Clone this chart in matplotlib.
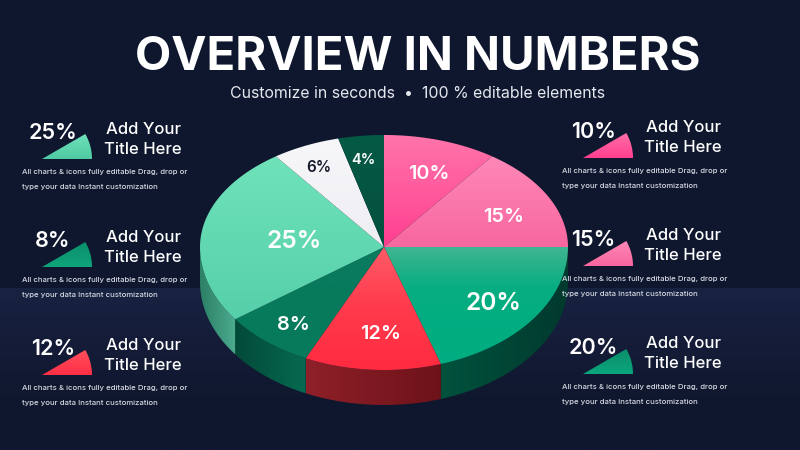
import numpy as np
import matplotlib
matplotlib.use("Agg")
import matplotlib.pyplot as plt
from matplotlib.colors import LinearSegmentedColormap
from matplotlib.patches import Polygon

plt.rcParams['font.family'] = ['Inter', 'DejaVu Sans']

# pie slices, clockwise from 12 o'clock
values = [10, 15, 20, 12, 8, 25, 6, 4]
slice_labels = ["10%", "15%", "20%", "12%", "8%", "25%", "6%", "4%"]
title = "OVERVIEW IN NUMBERS"
subtitle = "Customize in seconds  •  100 % editable elements"
card_title = ["Add Your", "Title Here"]
card_text = ["All charts & icons fully editable Drag, drop or",
             "type your data Instant customization"]
left_cards = ["25%", "8%", "12%"]
right_cards = ["10%", "15%", "20%"]

# styling
BG = "#0f172e"
top_colors = [("#ff74aa", "#ff3f90"), ("#ff88b8", "#f7679f"), ("#3fb590", "#08ae82", "#00ad80", "#00ad80"),
              ("#ff5a66", "#ff3a4c", "#ff2b40"), ("#0a7a5e", "#077a5b"), ("#6fe2ba", "#56d0aa"),
              ("#f7f7fa", "#eeeef3"), ("#055a45", "#04503e")]
wall_colors = {2: ("#00523d", "#023a2e"), 3: ("#8e2029", "#6e1219"),
               4: ("#034a39", "#066a50"), 5: ("#2c8066", "#4cab8e")}
label_xy = [(429, 174), (504, 217), (493, 303), (381, 334),
            (293, 325), (294, 241), (319, 167), (363, 160)]
label_size = [14.3, 14.3, 17.6, 14.3, 14.3, 17.6, 11, 10.5]
label_color = ["white"] * 6 + ["#15192b", "white"]
left_colors = [("#6fe2ba", "#4fcaa3"), ("#0b8f6b", "#0fa47b"), ("#ff4f5e", "#ff2f45")]
right_colors = [("#ff6fa8", "#ff3f90"), ("#ff88b8", "#f7679f"), ("#0c8f6d", "#0ba57c")]

cx, cy, rx, ry_up, ry_down, depth = 384, 247, 184, 112, 123, 35


def ell(theta):
    # theta in radians, clockwise from top, pixel coords
    ry = np.where(np.cos(theta) >= 0, ry_up, ry_down)
    return cx + rx * np.sin(theta), cy - ry * np.cos(theta)


def grad_fill(ax, pts, stops, vertical=True):
    pts = np.asarray(pts)
    poly = Polygon(pts, closed=True, fc="none", ec="none", transform=ax.transData)
    ax.add_patch(poly)
    cmap = LinearSegmentedColormap.from_list("g", list(stops))
    g = np.linspace(0, 1, 64)
    g = g[:, None] if vertical else g[None, :]
    ext = (pts[:, 0].min(), pts[:, 0].max(), pts[:, 1].max(), pts[:, 1].min())
    im = ax.imshow(g, cmap=cmap, extent=ext, aspect="auto", interpolation="bilinear", zorder=3)
    im.set_clip_path(poly)


fig = plt.figure(figsize=(8, 4.5), dpi=100, facecolor=BG)
ax = fig.add_axes([0, 0, 1, 1])
ax.set_facecolor(BG)

# lighter band in lower half of the background
band = LinearSegmentedColormap.from_list("b", ["#182342", "#141c38", "#10182f", "#0f172e"])
ax.imshow(np.linspace(0, 1, 64)[:, None], cmap=band, extent=(0, 800, 450, 288),
          aspect="auto", zorder=1)

# side wall then top of the pie
edges = np.cumsum([0] + values) / sum(values) * 2 * np.pi
for i, stops in wall_colors.items():
    t = np.linspace(max(edges[i], np.pi / 2), min(edges[i + 1], 3 * np.pi / 2), 60)
    x, y = ell(t)
    pts = np.r_[np.c_[x, y], np.c_[x[::-1], y[::-1] + depth]]
    grad_fill(ax, pts, stops, vertical=False)

for i, stops in enumerate(top_colors):
    t = np.linspace(edges[i], edges[i + 1], 60)
    x, y = ell(t)
    pts = np.r_[[[cx, cy]], np.c_[x, y]]
    grad_fill(ax, pts, stops)

for lab, (x, y), fs, col in zip(slice_labels, label_xy, label_size, label_color):
    ax.text(x, y, lab, fontsize=fs, fontweight="semibold", color=col,
            ha="center", va="center", zorder=5)

ax.text(418, 58, title, fontsize=34, fontweight="bold", color="white",
        ha="center", va="center", zorder=5)
ax.text(418, 94, subtitle, fontsize=11.4, color="#e6e8ef", ha="center", va="center", zorder=5)


def card(lab, colors, x_pct, x_wedge, x_title, x_text, y0):
    ax.text(x_pct, y0 + 6, lab, fontsize=15.5, fontweight="semibold", color="white",
            ha="center", va="center", zorder=5)
    # small wedge icon, 50 px radius
    t = np.linspace(0, np.radians(30), 20)
    pts = np.r_[[[x_wedge, y0 + 32]],
                np.c_[x_wedge + 50 * np.cos(t), y0 + 32 - 50 * np.sin(t)]]
    grad_fill(ax, pts, colors)
    ax.text(x_title, y0 + 2, card_title[0], fontsize=12, fontweight="medium", color="white",
            ha="center", va="center", zorder=5)
    ax.text(x_title, y0 + 22, card_title[1], fontsize=12, fontweight="medium", color="white",
            ha="center", va="center", zorder=5)
    ax.text(x_text, y0 + 45, card_text[0], fontsize=5.6, fontweight="medium", color="#d6d9e2",
            va="center", zorder=5)
    ax.text(x_text, y0 + 60, card_text[1], fontsize=5.6, fontweight="medium", color="#d6d9e2",
            va="center", zorder=5)


for i, lab in enumerate(left_cards):
    card(lab, left_colors[i], 53, 42, 143, 22, 127 + 108 * i)
for i, lab in enumerate(right_cards):
    card(lab, right_colors[i], 593, 583, 683, 562, 126 + 108 * i)

ax.set_xlim(0, 800)
ax.set_ylim(450, 0)
ax.axis("off")
fig.savefig("out.png", dpi=100, facecolor=BG)
